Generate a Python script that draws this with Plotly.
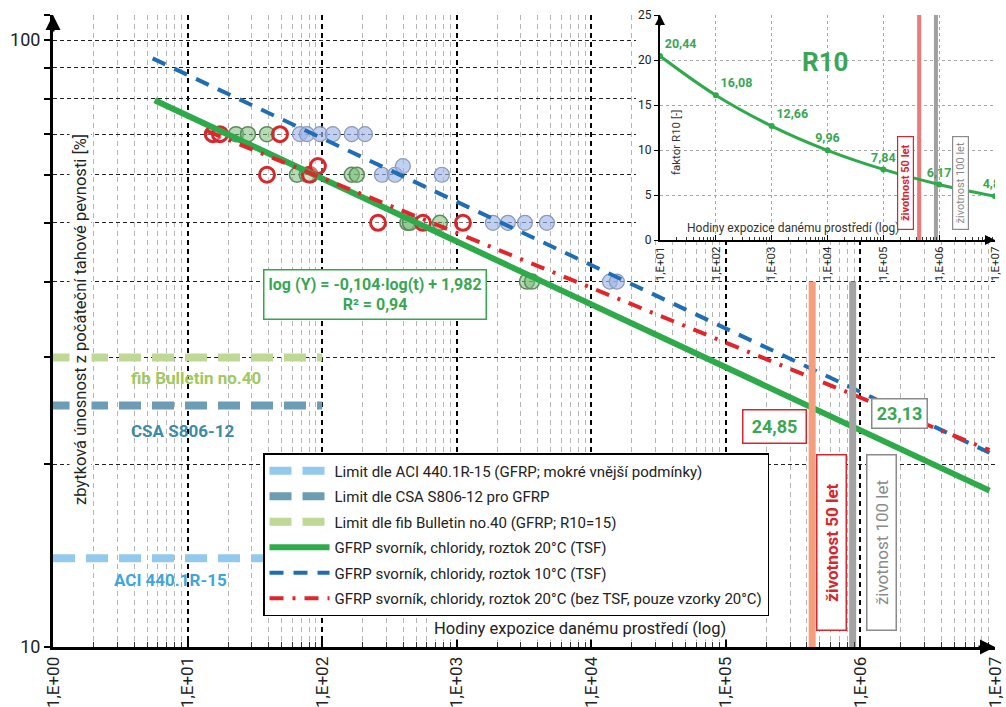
import plotly.graph_objects as go
import math

# ---------------- data ----------------
hour_ticks = [1, 10, 100, 1e3, 1e4, 1e5, 1e6, 1e7]
hour_ticktext = ["1,E+00", "1,E+01", "1,E+02", "1,E+03", "1,E+04", "1,E+05", "1,E+06", "1,E+07"]
hour_minor = [m * 10 ** d for d in range(0, 7) for m in range(2, 10)]
pct_ticks = [10, 20, 30, 40, 50, 60, 70, 80, 90, 100, 110]
pct_ticktext = ["10", "", "", "", "", "", "", "", "", "100", ""]

# measured points (hours, % residual strength)
red_t = [15.4, 17.4, 48.6, 38.9, 81, 93, 260, 561, 1112]
red_y = [70, 70, 70, 60, 60, 62, 50, 50, 50]
green_t = [22.9, 28.1, 38.9, 65, 77, 166, 181, 430, 449, 750, 3325, 3623]
green_y = [70, 70, 70, 60, 60, 60, 60, 50, 50, 50, 40, 40]
blue_t = [68.4, 77.1, 96.3, 120, 166, 208, 278, 348, 398, 776, 1858, 2400, 3213, 4677, 13750, 15490]
blue_y = [70, 70, 70, 70, 70, 70, 60, 60, 62, 60, 50, 50, 50, 50, 40, 40]

# regression lines (end points)
green_fit_t = [5.7, 9.1e6]
green_fit_y = [79.6, 18.1]
blue_fit_t = [5.5, 9.1e6]
blue_fit_y = [93.3, 20.9]
red_fit_t = [14, 9.1e6]
red_fit_y = [70.8, 21.1]

# limits
limit_t = [1, 100]
aci_limit = 14
csa_limit = 25
fib_limit = 30

# lifetimes (hours)
life50_h = 438000
life100_h = 876000
life_band_y = [10, 40]

# inset R10
r10_t = [1e1, 1e2, 1e3, 1e4, 1e5, 1e6, 1e7]
r10_v = [20.44, 16.08, 12.66, 9.96, 7.84, 6.17, 4.86]
r10_text = ["20,44", "16,08", "12,66", "9,96", "7,84", "6,17", "4,86"]
inset_ticks = [1e1, 1e2, 1e3, 1e4, 1e5, 1e6, 1e7]
inset_ticktext = ["1,E+01", "1,E+02", "1,E+03", "1,E+04", "1,E+05", "1,E+06", "1,E+07"]
inset_minor = [m * 10 ** d for d in range(1, 7) for m in range(2, 10)]

# ---------------- geometry helpers ----------------
W, H = 1006, 707
L, R, T, B = 53, 11, 15, 60
PW = W - L - R
PH = H - T - B


def px(x):
    return (x - L) / PW


def py(y):
    return (H - B - y) / PH


FONT = "Roboto, Arial, sans-serif"
GREEN = "#2eaa4a"
GTEXT = "#3aa655"
RED = "#e2252b"
BLUE = "#1f6db4"

fig = go.Figure()

# scatter points (beneath lines)
fig.add_trace(go.Scatter(x=green_t, y=green_y, mode="markers", showlegend=False,
                         marker=dict(size=15, color="rgba(120,190,120,0.55)",
                                     line=dict(color="#5e8a5e", width=1.5))))
fig.add_trace(go.Scatter(x=blue_t, y=blue_y, mode="markers", showlegend=False,
                         marker=dict(size=15, color="rgba(160,182,232,0.65)",
                                     line=dict(color="#8a98b8", width=1.2))))
fig.add_trace(go.Scatter(x=red_t, y=red_y, mode="markers", showlegend=False,
                         marker=dict(size=15, color="rgba(255,255,255,0.35)",
                                     line=dict(color="#d8262d", width=3))))

# limit lines
fig.add_trace(go.Scatter(x=limit_t, y=[aci_limit] * 2, mode="lines", legendgroup="a",
                         name="Limit dle ACI 440.1R-15 (GFRP; mokré vnější podmínky)",
                         line=dict(color="#93c9ec", width=8, dash="22px,11px")))
fig.add_trace(go.Scatter(x=limit_t, y=[csa_limit] * 2, mode="lines", legendgroup="b",
                         name="Limit dle CSA S806-12 pro GFRP",
                         line=dict(color="#6c9db4", width=8, dash="22px,11px")))
fig.add_trace(go.Scatter(x=limit_t, y=[fib_limit] * 2, mode="lines", legendgroup="c",
                         name="Limit dle fib Bulletin no.40 (GFRP; R10=15)",
                         line=dict(color="#bfd895", width=8, dash="22px,11px")))
# regression lines
fig.add_trace(go.Scatter(x=green_fit_t, y=green_fit_y, mode="lines", legendgroup="d",
                         name="GFRP svorník, chloridy, roztok 20°C (TSF)",
                         line=dict(color=GREEN, width=6)))
fig.add_trace(go.Scatter(x=blue_fit_t, y=blue_fit_y, mode="lines", legendgroup="e",
                         name="GFRP svorník, chloridy, roztok 10°C (TSF)",
                         line=dict(color=BLUE, width=4, dash="14px,10px")))
fig.add_trace(go.Scatter(x=red_fit_t, y=red_fit_y, mode="lines", legendgroup="f",
                         name="GFRP svorník, chloridy, roztok 20°C (bez TSF, pouze vzorky 20°C)",
                         line=dict(color=RED, width=4, dash="14px,9px,3px,9px")))

# lifetime bands in main plot
fig.add_trace(go.Scatter(x=[life50_h] * 2, y=life_band_y, mode="lines", showlegend=False,
                         line=dict(color="#f4a07e", width=7)))
fig.add_trace(go.Scatter(x=[life100_h] * 2, y=life_band_y, mode="lines", showlegend=False,
                         line=dict(color="#a3a3a3", width=7)))

# white cover pane (x2/y2) behind the inset
fig.add_trace(go.Scatter(x=[None], y=[None], xaxis="x2", yaxis="y2", showlegend=False))

# inset traces
fig.add_trace(go.Scatter(x=[life50_h] * 2, y=[0, 25], xaxis="x3", yaxis="y3", mode="lines",
                         showlegend=False, line=dict(color="#ee7a78", width=4)))
fig.add_trace(go.Scatter(x=[life100_h] * 2, y=[0, 25], xaxis="x3", yaxis="y3", mode="lines",
                         showlegend=False, line=dict(color="#a0a0a0", width=4)))
fig.add_trace(go.Scatter(x=r10_t, y=r10_v, xaxis="x3", yaxis="y3", mode="lines+markers+text",
                         showlegend=False, text=r10_text,
                         textposition=["top right", "top right", "top right", "top center",
                                       "top center", "top center", "top center"],
                         textfont=dict(color="#3aa655", size=12.5, family=FONT, weight="bold"),
                         line=dict(color=GREEN, width=3, shape="spline"),
                         marker=dict(size=6, color=GREEN)))

grid_dash = "4px,3px"
fig.update_layout(
    width=W, height=H, template="none",
    margin=dict(l=L, r=R, t=T, b=B, pad=0),
    paper_bgcolor="white", plot_bgcolor="white",
    font=dict(family=FONT, color="#222"),
    xaxis=dict(type="log", range=[0, 7], domain=[0, 1], showline=True, linecolor="black",
               linewidth=3, tickvals=hour_ticks, ticktext=hour_ticktext, tickangle=-90,
               tickfont=dict(size=17, color="#222"), ticks="inside", ticklen=8, tickwidth=1.5,
               tickcolor="black", showgrid=True, gridcolor="black", gridwidth=1.6,
               griddash="5px,4px", zeroline=False, automargin=False,
               minor=dict(tickvals=hour_minor, ticks="inside", ticklen=5, tickwidth=1,
                          tickcolor="#333", showgrid=True, gridcolor="#b5b5b5",
                          gridwidth=1, griddash="5px,4px")),
    yaxis=dict(type="log", range=[1, math.log10(110)], domain=[0, 1], showline=True,
               linecolor="black", linewidth=3, tickvals=pct_ticks, ticktext=pct_ticktext,
               tickfont=dict(size=18, color="#222"), ticks="outside", ticklen=6, tickwidth=1.5,
               tickcolor="black", showgrid=True, gridcolor="#222", gridwidth=1,
               griddash=grid_dash, zeroline=False, automargin=False),
    xaxis2=dict(domain=[px(636), 1], range=[0, 1], anchor="y2", showgrid=False,
                showticklabels=False, zeroline=False, showline=False, ticks=""),
    yaxis2=dict(domain=[py(240), 1], range=[0, 1], anchor="x2", showgrid=False,
                showticklabels=False, zeroline=False, showline=False, ticks=""),
    xaxis3=dict(type="log", range=[1, 7], domain=[px(660), 1], anchor="y3", showline=True,
                linecolor="black", linewidth=2, tickvals=inset_ticks, ticktext=inset_ticktext,
                tickangle=-90, tickfont=dict(size=11.5, color="#222"), ticks="inside", ticklen=5,
                tickcolor="black", showgrid=True, gridcolor="#a8a8a8", gridwidth=1,
                griddash="dot", zeroline=False,
                minor=dict(tickvals=inset_minor, ticks="inside", ticklen=3, tickcolor="#333",
                           showgrid=False)),
    yaxis3=dict(range=[0, 25], domain=[py(240), 1], anchor="x3", showline=True,
                linecolor="black", linewidth=2, tickvals=[0, 5, 10, 15, 20, 25],
                tickfont=dict(size=12, color="#222"), ticks="outside", ticklen=4,
                tickcolor="black", showgrid=True, gridcolor="#a8a8a8", gridwidth=1,
                griddash="dot", zeroline=False),
    legend=dict(x=px(263), y=py(453), xanchor="left", yanchor="top",
                bgcolor="white", bordercolor="black", borderwidth=1.5,
                font=dict(size=15, family=FONT, color="#222"), tracegroupgap=3,
                itemwidth=60),
    showlegend=True,
)

ann = []
# axis arrows
ann.append(dict(xref="x", yref="y", x=7, y=1, ax=-18, ay=0,
                text="", showarrow=True, arrowhead=2, arrowsize=1, arrowwidth=3, arrowcolor="black"))
ann.append(dict(xref="x", yref="y", x=0, y=math.log10(110), ax=0, ay=18, text="", showarrow=True,
                arrowhead=2, arrowsize=1, arrowwidth=3, arrowcolor="black"))
ann.append(dict(xref="x3", yref="y3", x=7, y=0, ax=-12, ay=0, text="", showarrow=True,
                arrowhead=2, arrowsize=1, arrowwidth=2, arrowcolor="black"))
ann.append(dict(xref="x3", yref="y3", x=1, y=25, ax=0, ay=12, text="", showarrow=True,
                arrowhead=2, arrowsize=1, arrowwidth=2, arrowcolor="black"))


def label(x, y, text, **kw):
    d = dict(xref="paper", yref="paper", x=px(x), y=py(y), text=text, showarrow=False,
             xanchor="center", yanchor="middle")
    d.update(kw)
    ann.append(d)


# titles
label(80, 320, "zbytková únosnost z počáteční tahové pevnosti [%]", textangle=-90,
      font=dict(size=16.5, color="#222"), bgcolor="white")
label(580, 628, "Hodiny expozice danému prostředí (log)", font=dict(size=16.5, color="#222"),
      bgcolor="white")
# limit labels
label(196, 378, "<b>fib Bulletin no.40</b>", font=dict(size=17, color="#a2c862"))
label(182, 431, "<b>CSA S806-12</b>", font=dict(size=17, color="#3d8aa8"))
label(170, 580, "<b>ACI 440.1R-15</b>", font=dict(size=17, color="#3fa6dd"))
# equation
label(375, 294, "<b>log (Y) = -0,104·log(t) + 1,982<br>R² = 0,94</b>",
      font=dict(size=16, color=GTEXT), bgcolor="white", bordercolor=GREEN, borderwidth=1.5,
      borderpad=4, align="center")
# values at lifetimes
label(774, 427, "<b>24,85</b>", font=dict(size=18, color=GTEXT), bgcolor="white",
      bordercolor="#d8262d", borderwidth=1.5, borderpad=3, width=56, height=26)
label(899, 413, "<b>23,13</b>", font=dict(size=18, color=GTEXT), bgcolor="white",
      bordercolor="#8a8a8a", borderwidth=1.5, borderpad=2, width=50, height=24)
label(831, 543, "<b>životnost 50 let</b>", textangle=-90, font=dict(size=17, color="#d8262d"),
      bgcolor="white", bordercolor="#d8262d", borderwidth=1.5, borderpad=2, width=170, height=24)
label(881, 543, "životnost 100 let", textangle=-90, font=dict(size=17, color="#8a8a8a"),
      bgcolor="white", bordercolor="#8a8a8a", borderwidth=1.5, borderpad=2, width=170, height=24)
# inset texts
label(825, 62, "<b>R10</b>", font=dict(size=26, color=GTEXT))
label(676, 143, "faktor R10 [-]", textangle=-90, font=dict(size=11.5, color="#333"))
label(793, 228, "Hodiny expozice danému prostředí (log)", font=dict(size=12, color="#333"))
label(906, 183, "<b>životnost 50 let</b>", textangle=-90, font=dict(size=11, color="#d8262d"),
      bgcolor="white", bordercolor="#d8262d", borderwidth=1.2, borderpad=1, width=90, height=13)
label(961, 183, "životnost 100 let", textangle=-90, font=dict(size=11, color="#8a8a8a"),
      bgcolor="white", bordercolor="#8a8a8a", borderwidth=1.2, borderpad=1, width=90, height=13)

fig.update_layout(annotations=ann)
fig.write_html("out.html", config={"displayModeBar": False},
               post_script="document.body.style.margin='0';")
